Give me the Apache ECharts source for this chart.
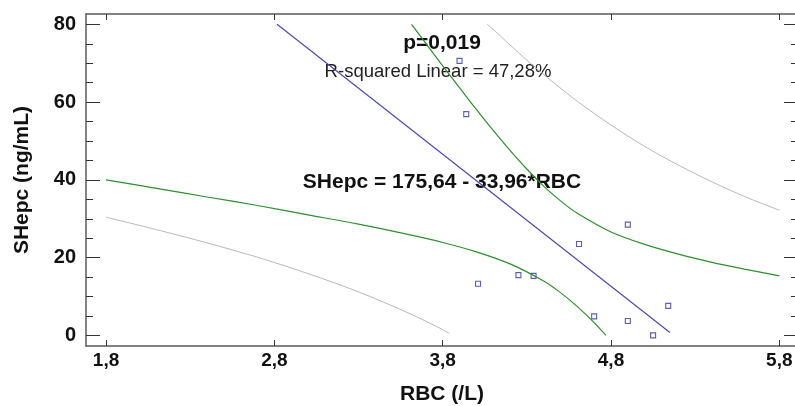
<!DOCTYPE html>
<html>
<head>
<meta charset="utf-8">
<script src="https://cdn.jsdelivr.net/npm/echarts@6/dist/echarts.min.js"></script>
<style>
  html, body { margin: 0; padding: 0; background: #fff; }
  #chart { width: 795px; height: 406px; }
</style>
</head>
<body>
<div id="chart"></div>
<script>
// Observations: red blood cell count vs serum hepcidin
const rbc   = [3.90, 3.94, 4.01, 4.25, 4.34, 4.61, 4.70, 4.90, 4.90, 5.05, 5.14];
const shepc = [70.6, 56.9, 13.3, 15.5, 15.3, 23.5, 4.9, 28.5, 3.7, 0.0, 7.6];

// Linear fit as printed on the chart
const fitIntercept = 175.64;
const fitSlope = -33.96;
const fitX = [2.816, 5.15];

// 95% confidence band for the mean (green)
const ciLowX  = [1.8, 2.1, 2.4, 2.7, 3.0, 3.3, 3.6, 3.8, 4.0, 4.2, 4.4, 4.5, 4.6, 4.7, 4.77];
const ciLowY  = [40.0, 37.8, 35.6, 33.4, 31.0, 28.6, 25.9, 23.9, 21.5, 18.4, 14.0, 11.0, 7.4, 3.3, 0.0];
const ciHighX = [3.615, 3.7, 3.8, 3.9, 4.0, 4.1, 4.2, 4.3, 4.4, 4.5, 4.6, 4.8, 5.0, 5.2, 5.4, 5.6, 5.8];
const ciHighY = [80.0, 75.1, 69.3, 63.7, 58.1, 52.7, 47.6, 42.8, 38.4, 34.6, 31.4, 26.6, 23.4, 20.9, 18.8, 17.0, 15.3];

// 95% prediction band for individual values (grey)
const piLowX  = [1.8, 2.1, 2.4, 2.7, 3.0, 3.3, 3.6, 3.8, 3.84];
const piLowY  = [30.4, 27.2, 23.8, 20.1, 15.9, 11.2, 5.7, 1.5, 0.5];
const piHighX = [4.065, 4.1, 4.2, 4.3, 4.4, 4.5, 4.6, 4.8, 5.0, 5.2, 5.4, 5.6, 5.8];
const piHighY = [80.0, 78.7, 74.7, 70.8, 67.1, 63.6, 60.2, 54.1, 48.6, 43.8, 39.5, 35.6, 32.2];

// Axis ticks
const xTicks = [1.8, 2.8, 3.8, 4.8, 5.8];
const yTicks = [0, 20, 40, 60, 80];
const yMinorTicks = [5, 10, 15, 25, 30, 35, 45, 50, 55, 65, 70, 75];

// Annotation texts
const pText = 'p=0,019';
const r2Text = 'R-squared Linear = 47,28%';
const eqText = 'SHepc = 175,64 - 33,96*RBC';

const FONT = "'Liberation Sans', Arial, sans-serif";
const AXIS_COLOR = '#5a5a5a';
const comma = v => String(v).replace('.', ',');
const pairs = (xs, ys) => xs.map((x, i) => [x, ys[i]]);

const X_MIN = 1.681, X_MAX = 5.911;
const Y_MIN = -2.72, Y_MAX = 82.65;

const baseY = {
  type: 'value', min: Y_MIN, max: Y_MAX,
  splitLine: { show: false },
  axisLabel: { show: false },
  axisLine: { show: false, onZero: false }
};

const chart = echarts.init(document.getElementById('chart'), null, { renderer: 'canvas' });
chart.setOption({
  animation: false,
  backgroundColor: '#ffffff',
  // plot frame runs slightly past the right edge of the canvas
  grid: { left: 86, top: 14, width: 712, height: 332, containLabel: false, outerBoundsMode: 'none' },
  xAxis: [
    {
      type: 'value', min: X_MIN, max: X_MAX, position: 'bottom',
      name: 'RBC (/L)', nameLocation: 'middle', nameGap: 38,
      nameTextStyle: { fontFamily: FONT, fontWeight: 'bold', fontSize: 21, color: '#111' },
      axisLine: { show: true, onZero: false, lineStyle: { color: AXIS_COLOR, width: 1.5 } },
      axisTick: { show: true, inside: true, length: 6, customValues: xTicks, lineStyle: { color: '#333' } },
      axisLabel: { customValues: xTicks, formatter: comma, margin: 5,
        fontFamily: FONT, fontWeight: 'bold', fontSize: 19, color: '#111' },
      splitLine: { show: false }
    },
    {
      type: 'value', min: X_MIN, max: X_MAX, position: 'top',
      axisLine: { show: true, onZero: false, lineStyle: { color: AXIS_COLOR, width: 1.5 } },
      axisTick: { show: true, inside: true, length: 6, customValues: xTicks, lineStyle: { color: '#333' } },
      axisLabel: { show: false },
      splitLine: { show: false }
    }
  ],
  yAxis: [
    Object.assign({}, baseY, {
      position: 'left',
      name: 'SHepc (ng/mL)', nameLocation: 'middle', nameGap: 53, nameRotate: 90,
      nameTextStyle: { fontFamily: FONT, fontWeight: 'bold', fontSize: 21, color: '#111' },
      axisLine: { show: true, onZero: false, lineStyle: { color: AXIS_COLOR, width: 1.5 } },
      axisTick: { show: true, inside: true, length: 14, customValues: yTicks, lineStyle: { color: '#333' } },
      axisLabel: { show: true, customValues: yTicks, margin: 10,
        fontFamily: FONT, fontWeight: 'bold', fontSize: 20, color: '#111' }
    }),
    Object.assign({}, baseY, {
      position: 'left',
      axisTick: { show: true, inside: true, length: 7, customValues: yMinorTicks, lineStyle: { color: '#333' } }
    }),
    Object.assign({}, baseY, {
      position: 'right',
      axisLine: { show: true, onZero: false, lineStyle: { color: AXIS_COLOR, width: 1.5 } },
      axisTick: { show: true, inside: true, length: 14, customValues: yTicks, lineStyle: { color: '#333' } }
    }),
    Object.assign({}, baseY, {
      position: 'right',
      axisTick: { show: true, inside: true, length: 7, customValues: yMinorTicks, lineStyle: { color: '#333' } }
    })
  ],
  series: [
    {
      name: 'Prediction lower', type: 'line', data: pairs(piLowX, piLowY),
      smooth: 0.3, symbol: 'none', lineStyle: { color: '#b9b9b9', width: 1 }
    },
    {
      name: 'Prediction upper', type: 'line', data: pairs(piHighX, piHighY),
      smooth: 0.3, symbol: 'none', lineStyle: { color: '#b9b9b9', width: 1 }
    },
    {
      name: 'Confidence lower', type: 'line', data: pairs(ciLowX, ciLowY),
      smooth: 0.3, symbol: 'none', lineStyle: { color: '#2f8f2f', width: 1.2 }
    },
    {
      name: 'Confidence upper', type: 'line', data: pairs(ciHighX, ciHighY),
      smooth: 0.3, symbol: 'none', lineStyle: { color: '#2f8f2f', width: 1.2 }
    },
    {
      name: 'Linear fit', type: 'line',
      data: fitX.map(x => [x, fitIntercept + fitSlope * x]),
      symbol: 'none', lineStyle: { color: '#4646b0', width: 1.1 }
    },
    {
      name: 'Observed', type: 'scatter', data: pairs(rbc, shepc),
      symbol: 'rect', symbolSize: 5,
      itemStyle: { color: 'rgba(255,255,255,0)', borderColor: '#3434a8', borderWidth: 1.1 }
    }
  ],
  graphic: [
    { type: 'text', x: 442, y: 43, style: { text: pText, fontFamily: FONT, fontWeight: 'bold', fontSize: 21,
      fill: '#111', align: 'center', verticalAlign: 'middle' } },
    { type: 'text', x: 438, y: 72, style: { text: r2Text, fontFamily: FONT, fontSize: 18.5,
      fill: '#222', align: 'center', verticalAlign: 'middle' } },
    { type: 'text', x: 442, y: 182, style: { text: eqText, fontFamily: FONT, fontWeight: 'bold', fontSize: 21,
      fill: '#111', align: 'center', verticalAlign: 'middle' } }
  ]
});
</script>
</body>
</html>
